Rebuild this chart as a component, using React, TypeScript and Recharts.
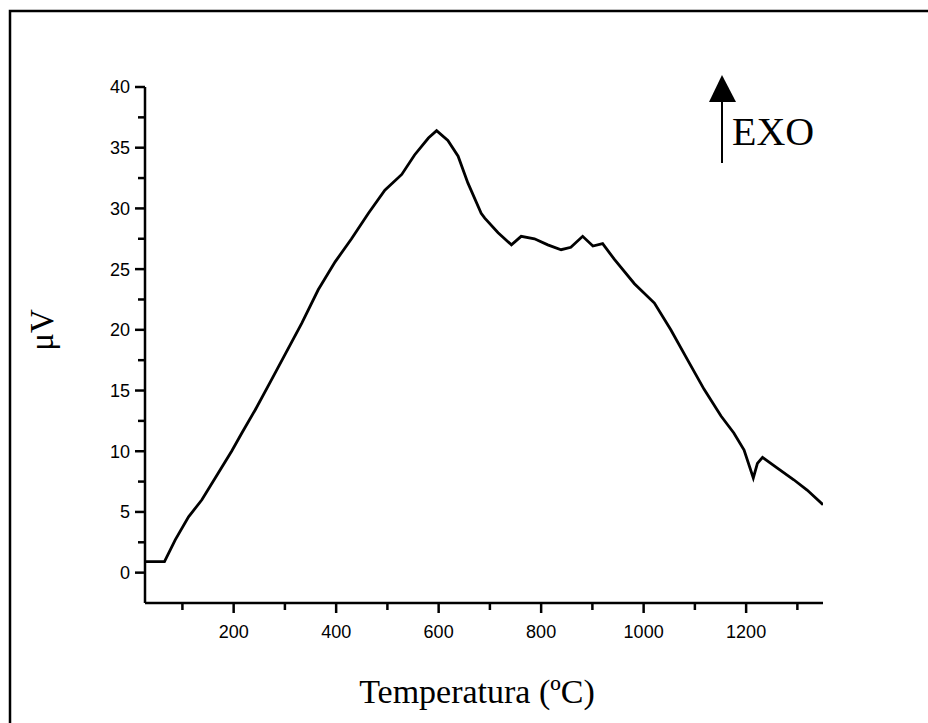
import { LineChart, Line, XAxis, YAxis, Label } from "recharts";

// DTA trace, temperature (ºC) vs signal (µV)
const temps = [
  27, 65, 86, 112, 138, 170, 196, 216, 242, 274, 333, 365, 398, 430, 463, 495,
  528, 553, 580, 596, 618, 638, 657, 683, 690, 716, 742, 761, 787, 813, 839,
  858, 881, 901, 920, 943, 982, 1021, 1053, 1086, 1118, 1151, 1176, 1196, 1214,
  1222, 1232, 1261, 1293, 1319, 1350,
];
const microvolts = [
  0.9, 0.9, 2.7, 4.6, 6.0, 8.2, 10.0, 11.5, 13.4, 15.9, 20.55, 23.3, 25.6, 27.5,
  29.6, 31.5, 32.8, 34.4, 35.8, 36.4, 35.6, 34.3, 32.1, 29.6, 29.2, 28.0, 27.0,
  27.7, 27.5, 27.0, 26.6, 26.8, 27.7, 26.9, 27.1, 25.8, 23.8, 22.2, 20.0, 17.5,
  15.1, 12.9, 11.5, 10.1, 7.8, 9.0, 9.5, 8.6, 7.65, 6.8, 5.6,
];
const xTicks = [100, 200, 300, 400, 500, 600, 700, 800, 900, 1000, 1100, 1200, 1300];
const xLabeled = [200, 400, 600, 800, 1000, 1200];
const yTicks = [0, 2.5, 5, 7.5, 10, 12.5, 15, 17.5, 20, 22.5, 25, 27.5, 30, 32.5, 35, 37.5, 40];
const yLabeled = [0, 5, 10, 15, 20, 25, 30, 35, 40];

const data = temps.map((t, i) => ({ t, v: microvolts[i] }));

const tickFont = "'Liberation Sans', Arial, sans-serif";
const serif = "'Liberation Serif', 'Times New Roman', serif";

function XTick(props: any) {
  const { x, y, payload } = props;
  const major = xLabeled.includes(payload.value);
  return (
    <g>
      <line x1={x} x2={x} y1={y} y2={y + (major ? 10 : 7)} stroke="#000" strokeWidth={2.5} />
      {major && (
        <text x={x} y={y + 35} textAnchor="middle" fontFamily={tickFont} fontSize={18} fill="#000">
          {payload.value}
        </text>
      )}
    </g>
  );
}

function YTick(props: any) {
  const { x, y, payload } = props;
  const major = yLabeled.includes(payload.value);
  return (
    <g>
      <line x1={x - (major ? 10 : 7)} x2={x} y1={y} y2={y} stroke="#000" strokeWidth={2.5} />
      {major && (
        <text x={x - 15} y={y} dy="0.36em" textAnchor="end" fontFamily={tickFont} fontSize={18} fill="#000">
          {payload.value}
        </text>
      )}
    </g>
  );
}

export default function App() {
  return (
    <div style={{ position: "absolute", left: 0, top: 0, width: 928, height: 723, background: "#fff", overflow: "hidden" }}>
      <LineChart
        width={928}
        height={723}
        data={data}
        margin={{ top: 87, right: 105, bottom: 90, left: 85 }}
      >
        <XAxis
          dataKey="t"
          type="number"
          domain={[27, 1350]}
          ticks={xTicks}
          tick={<XTick />}
          tickLine={false}
          tickSize={0}
          tickMargin={0}
          height={30}
          axisLine={{ stroke: "#000", strokeWidth: 2.5 }}
          allowDataOverflow
        >
          <Label
            content={() => (
              <text x={477} y={703} textAnchor="middle" fontFamily={serif} fontSize={34} fill="#000">
                Temperatura (ºC)
              </text>
            )}
          />
        </XAxis>
        <YAxis
          type="number"
          domain={[-2.5, 40]}
          ticks={yTicks}
          tick={<YTick />}
          tickLine={false}
          tickSize={0}
          tickMargin={0}
          width={60}
          axisLine={{ stroke: "#000", strokeWidth: 2.5 }}
          allowDataOverflow
        >
          <Label
            content={() => (
              <text
                x={42}
                y={330}
                transform="rotate(-90, 42, 330)"
                textAnchor="middle"
                dominantBaseline="central"
                fontFamily={serif}
                fontSize={33}
                fill="#000"
              >
                μV
              </text>
            )}
          />
        </YAxis>
        <Line
          type="linear"
          dataKey="v"
          stroke="#000"
          strokeWidth={2.8}
          dot={false}
          isAnimationActive={false}
        />
      </LineChart>
      <svg
        width={928}
        height={723}
        style={{ position: "absolute", left: 0, top: 0, pointerEvents: "none" }}
      >
        <rect x={10} y={11} width={1000} height={800} fill="none" stroke="#000" strokeWidth={2.5} />
        <line x1={722} x2={722} y1={100} y2={163} stroke="#000" strokeWidth={2} />
        <polygon points="722,75 709,102 736,102" fill="#000" />
        <text x={732} y={145} fontFamily={serif} fontSize={40} fill="#000">
          EXO
        </text>
      </svg>
    </div>
  );
}
